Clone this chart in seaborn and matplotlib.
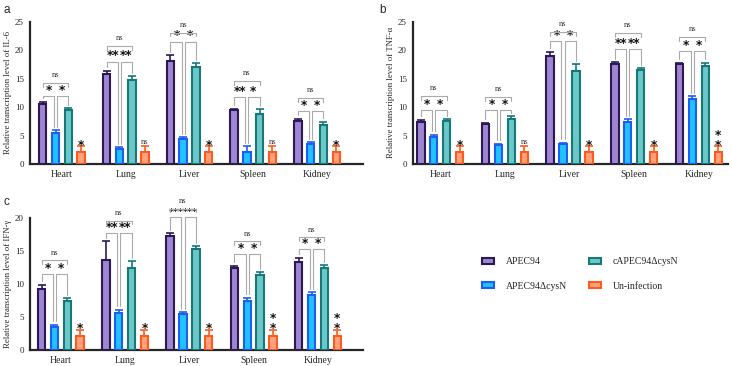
import numpy as np
import pandas as pd
import seaborn as sns
import matplotlib.pyplot as plt
from matplotlib.patches import Patch

# ---- data ----
tissues = ["Heart", "Lung", "Liver", "Spleen", "Kidney"]
strains = ["APEC94", "APEC94\u0394cysN", "cAPEC94\u0394cysN", "Un-infection"]

# IL-6
il6_wt = [10.5, 15.8, 18.1, 9.4, 7.6]
il6_wt_sd = [0.4, 0.6, 1.0, 0.3, 0.3]
il6_mut = [5.5, 2.6, 4.4, 2.1, 3.5]
il6_mut_sd = [0.4, 0.3, 0.3, 1.0, 0.3]
il6_comp = [9.4, 14.8, 17.0, 8.8, 6.9]
il6_comp_sd = [0.4, 0.6, 0.7, 0.8, 0.5]
il6_ctrl = [2.1, 2.1, 2.1, 2.1, 2.1]
il6_ctrl_sd = [1.0, 1.0, 1.0, 1.0, 1.0]
il6_sig_left = ["*", "**", "*", "**", "*"]
il6_sig_right = ["*", "**", "*", "*", "*"]
il6_sig_ctrl = ["*", "ns", "*", "ns", "*"]
il6_star_lvl = [11.9, 18.0, 21.5, 11.8, 9.3]
il6_ns_lvl = [14.3, 20.7, 23.1, 14.6, 11.65]

# TNF-a
tnf_wt = [7.3, 7.0, 19.0, 17.5, 17.5]
tnf_wt_sd = [0.5, 0.2, 0.7, 0.35, 0.3]
tnf_mut = [4.7, 3.3, 3.45, 7.45, 11.4]
tnf_mut_sd = [0.4, 0.3, 0.3, 0.4, 0.5]
tnf_comp = [7.55, 7.9, 16.3, 16.5, 17.3]
tnf_comp_sd = [0.3, 0.5, 1.2, 0.3, 0.5]
tnf_ctrl = [2.1, 2.1, 2.1, 2.1, 2.1]
tnf_ctrl_sd = [1.0, 1.0, 1.0, 1.0, 1.0]
tnf_sig_left = ["*", "*", "*", "**", "*"]
tnf_sig_right = ["*", "*", "*", "**", "*"]
tnf_sig_ctrl = ["*", "ns", "*", "*", "*\n*"]
tnf_star_lvl = [9.5, 9.5, 21.6, 20.2, 19.85]
tnf_ns_lvl = [12.0, 11.8, 23.2, 22.95, 22.25]

# IFN-g
ifn_wt = [9.3, 13.6, 17.3, 12.4, 13.4]
ifn_wt_sd = [0.6, 2.85, 0.4, 0.4, 0.6]
ifn_mut = [3.55, 5.6, 5.4, 7.5, 8.4]
ifn_mut_sd = [0.3, 0.5, 0.3, 0.45, 0.4]
ifn_comp = [7.4, 12.5, 15.35, 11.35, 12.5]
ifn_comp_sd = [0.45, 1.0, 0.35, 0.45, 0.4]
ifn_ctrl = [2.1, 2.1, 2.1, 2.1, 2.1]
ifn_ctrl_sd = [1.0, 1.0, 1.0, 1.0, 1.0]
ifn_sig_left = ["*", "**", "***", "*", "*"]
ifn_sig_right = ["*", "**", "***", "*", "*"]
ifn_sig_ctrl = ["*", "*", "*", "*\n*", "*\n*"]
ifn_star_lvl = [11.5, 17.7, 20.1, 14.5, 15.3]
ifn_ns_lvl = [13.6, 19.6, 21.4, 16.45, 17.1]

face_cols = ["#9f86d2", "#1ec3ff", "#6cc8c8", "#fba27e"]
edge_cols = ["#2b1856", "#1f5cf2", "#167878", "#ff5a1c"]
SERIF = "Liberation Serif"
STAR = dict(fontweight="bold", family="DejaVu Sans", color="#111111")


def make_df(series):
    rows = []
    for s, vals in zip(strains, series):
        for t, v in zip(tissues, vals):
            rows.append({"tissue": t, "strain": s, "value": v})
    return pd.DataFrame(rows)


def star_text(ax, x, y, s):
    # 3-star labels are squeezed so neighbours do not run into each other
    size = 8.7 if len(s) < 3 else 6.8
    ax.text(x, y, s, ha="center", va="baseline", fontsize=size, clip_on=False, **STAR)


def panel(ax, series, sds, sig_l, sig_r, sig_c, star_lvl, ns_lvl, ymax, ylabel, xlim):
    df = make_df(series)
    sns.barplot(data=df, x="tissue", y="value", hue="strain", order=tissues,
                hue_order=strains, palette=face_cols, saturation=1,
                errorbar=None, width=0.8, gap=0.42, linewidth=1.5,
                legend=False, ax=ax, zorder=3)
    centers = []
    for cont, ec, sd in zip(ax.containers, edge_cols, sds):
        xs = []
        for bar in cont:
            bar.set_edgecolor(ec)
            xs.append(bar.get_x() + bar.get_width() / 2)
        hs = [b.get_height() for b in cont]
        ax.errorbar(xs, hs, yerr=[np.zeros(len(sd)), sd], fmt="none",
                    ecolor=ec, elinewidth=1.2, capsize=2.8, capthick=1.2,
                    zorder=2)
        centers.append(xs)

    gray = "#aaaaaa"
    pad = 0.025 * ymax
    leg = 0.028 * ymax
    d = 0.025
    for i in range(len(tissues)):
        x0, x1, x2, x3 = (centers[k][i] for k in range(4))
        tops = [series[k][i] + sds[k][i] for k in range(4)]
        yb = star_lvl[i]
        ax.plot([x0, x0, x1 - d, x1 - d], [tops[0] + pad, yb, yb, tops[1] + pad],
                color=gray, lw=0.8, clip_on=False, zorder=4)
        ax.plot([x1 + d, x1 + d, x2, x2], [tops[1] + pad, yb, yb, tops[2] + pad],
                color=gray, lw=0.8, clip_on=False, zorder=4)
        shift = 0.012 if len(sig_l[i]) >= 3 else 0
        star_text(ax, (x0 + x1) / 2 - shift, yb + 0.015 * ymax, sig_l[i])
        star_text(ax, (x1 + x2) / 2 + shift, yb + 0.015 * ymax, sig_r[i])
        yn = ns_lvl[i]
        ax.plot([x0, x0, x2, x2], [yn - leg, yn, yn, yn - leg],
                color=gray, lw=0.8, clip_on=False, zorder=4)
        ax.text((x0 + x2) / 2, yn + 0.042 * ymax, "ns", ha="center", va="baseline",
                fontsize=6, family=SERIF, color="#333333", clip_on=False)
        if sig_c[i] == "ns":
            ax.text(x3, tops[3] + 0.017 * ymax, "ns", ha="center", va="baseline",
                    fontsize=6, family=SERIF, color="#333333")
        else:
            # stacked stars as one text, bottom line just above the cap
            ax.text(x3, tops[3] - 0.038 * ymax, sig_c[i], ha="center", va="bottom",
                    fontsize=8.7, linespacing=0.7, clip_on=False, **STAR)

    ax.set_ylim(0, ymax)
    ax.set_xlim(*xlim)
    ax.set_yticks(np.arange(0, ymax + 1, 5))
    ax.set_xlabel("")
    ax.set_ylabel(ylabel, family=SERIF, fontsize=6.3, labelpad=2)
    for lab in ax.get_xticklabels():
        lab.set_family(SERIF)
        lab.set_fontsize(7)
    for lab in ax.get_yticklabels():
        lab.set_family(SERIF)
        lab.set_fontsize(6.5)
    ax.tick_params(axis="both", direction="out", length=3, width=1.2, pad=1.5)
    sns.despine(ax=ax)
    for sp in ("left", "bottom"):
        ax.spines[sp].set_linewidth(1.6)


sns.set_style("white")
fig = plt.figure(figsize=(7.32, 3.66), dpi=100)
ax_a = fig.add_axes([30 / 732, 1 - 164 / 366, 333 / 732, 142.3 / 366])
ax_b = fig.add_axes([413 / 732, 1 - 164 / 366, 315 / 732, 142.3 / 366])
ax_c = fig.add_axes([30 / 732, 1 - 350 / 366, 333 / 732, 132 / 366])

panel(ax_a, [il6_wt, il6_mut, il6_comp, il6_ctrl],
      [il6_wt_sd, il6_mut_sd, il6_comp_sd, il6_ctrl_sd],
      il6_sig_left, il6_sig_right, il6_sig_ctrl, il6_star_lvl, il6_ns_lvl,
      25, "Relative transcription level of IL-6", (-0.5, 4.72))
panel(ax_b, [tnf_wt, tnf_mut, tnf_comp, tnf_ctrl],
      [tnf_wt_sd, tnf_mut_sd, tnf_comp_sd, tnf_ctrl_sd],
      tnf_sig_left, tnf_sig_right, tnf_sig_ctrl, tnf_star_lvl, tnf_ns_lvl,
      25, "Relative transcription level of TNF-\u03b1", (-0.42, 4.45))
panel(ax_c, [ifn_wt, ifn_mut, ifn_comp, ifn_ctrl],
      [ifn_wt_sd, ifn_mut_sd, ifn_comp_sd, ifn_ctrl_sd],
      ifn_sig_left, ifn_sig_right, ifn_sig_ctrl, ifn_star_lvl, ifn_ns_lvl,
      20, "Relative transcription level of IFN-\u03b3", (-0.48, 4.7))

for x, y, s in [(3, 4, "a"), (379, 4, "b"), (3, 196, "c")]:
    fig.text(x / 732, 1 - y / 366, s, ha="left", va="top", fontsize=8.5,
             family="Liberation Sans")

handles = [Patch(facecolor=f, edgecolor=e, linewidth=1.5) for f, e in zip(face_cols, edge_cols)]
fig.legend(handles, strains, loc="center", bbox_to_anchor=(580 / 732, 1 - 274 / 366),
           ncol=2, frameon=False, prop={"family": SERIF, "size": 7},
           handlelength=1.3, handleheight=0.55, handletextpad=1.2,
           columnspacing=2.2, labelspacing=1.6)

fig.savefig("out.png", dpi=100)
